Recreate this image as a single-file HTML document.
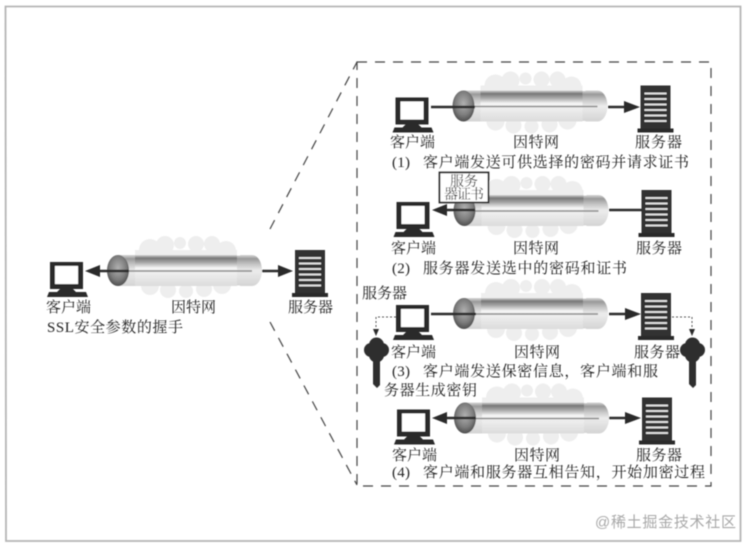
<!DOCTYPE html>
<html><head><meta charset="utf-8"><style>
html,body{margin:0;padding:0;background:#fff;width:752px;height:546px;overflow:hidden}
svg{display:block}
text{font-family:"Liberation Serif","Noto Serif CJK SC",serif;font-size:15px;fill:#222}
</style></head><body>
<svg width="752" height="546" viewBox="0 0 752 546" xmlns="http://www.w3.org/2000/svg">
<defs>
<linearGradient id="pipe" x1="0" y1="0" x2="0" y2="1">
<stop offset="0" stop-color="#d5d5d5"/><stop offset=".1" stop-color="#777"/><stop offset=".25" stop-color="#aaa"/><stop offset=".42" stop-color="#f6f6f6"/><stop offset=".75" stop-color="#e6e6e6"/><stop offset="1" stop-color="#dcdcdc"/>
</linearGradient>
<linearGradient id="pipe2" x1="0" y1="0" x2="0" y2="1">
<stop offset="0" stop-color="#d8d8d8"/><stop offset=".12" stop-color="#999"/><stop offset=".3" stop-color="#c5c5c5"/><stop offset=".5" stop-color="#ececec"/><stop offset="1" stop-color="#d4d4d4"/>
</linearGradient>
<radialGradient id="end" cx=".5" cy=".42" r=".62">
<stop offset="0" stop-color="#b0b0b0"/><stop offset=".6" stop-color="#7d7d7d"/><stop offset="1" stop-color="#454545"/>
</radialGradient>
<g id="pc">
<path d="M50 262H83V289H50Z" fill="#2c2c2c"/>
<rect x="55" y="266" width="23" height="18" fill="#fff"/>
<path d="M60 289H73L76 292H86L88 297H47L49 292H57Z" fill="#2c2c2c"/>
</g>
<g id="srv">
<rect x="295" y="250" width="30" height="43" fill="#333"/>
<rect x="292" y="293" width="36" height="4" fill="#2c2c2c"/>
<path d="M299 258H321M299 263.500H321M299 269H321M299 274.500H321M299 280H321M299 285.500H321" stroke="#eee" stroke-width="1.700"/>
</g>
<g id="pipeG">
<g fill="#eeeeee">
<circle cx="150" cy="250" r="11"/><circle cx="165" cy="245" r="9"/><circle cx="180" cy="243" r="6"/><circle cx="196" cy="244" r="8"/><circle cx="212" cy="244" r="8"/><circle cx="226" cy="251" r="10"/>
<rect x="135" y="250" width="102" height="36"/>
<circle cx="150" cy="286" r="9"/><circle cx="168" cy="290" r="8"/><circle cx="186" cy="291" r="7"/><circle cx="204" cy="289" r="8"/><circle cx="222" cy="285" r="9"/>
</g>
<path d="M118 255H252A10 15.500 0 0 1 252 286H118Z" fill="url(#pipe2)"/>
<rect x="135" y="255" width="102" height="31" fill="url(#pipe)"/>
<path d="M237 255H240M237 286H240" stroke="#fff" stroke-width="1"/>
<ellipse cx="118" cy="270.500" rx="11" ry="15.500" fill="url(#end)"/>
<path d="M129 271H252" stroke="#8a8a8a" stroke-width="1.500"/>
</g>
<g id="unit"><use href="#pipeG"/><use href="#pc"/><use href="#srv"/></g>
<g id="key" fill="#2f2f2f">
<circle cx="376.500" cy="345" r="7.500"/><circle cx="371" cy="350" r="7"/><circle cx="382" cy="350" r="7"/><circle cx="376.500" cy="355" r="7.500"/>
<path d="M373 358H380V385L377 388L373 384Z"/>
</g>
<filter id="b" x="-2%" y="-2%" width="104%" height="104%"><feGaussianBlur stdDeviation=".4"/></filter>
</defs>
<g filter="url(#b)">
<path d="M5.500 6.500H740.500V541H6Z" fill="none" stroke="#b5b5b5" stroke-width="1.800"/>
<!-- left diagram -->
<use href="#unit"/>
<path d="M95 271H129M262 271H285" stroke="#2c2c2c" stroke-width="2.500"/>
<path d="M85 271L100 265V277Z" fill="#2c2c2c"/><path d="M293 271L278 265V277Z" fill="#2c2c2c"/>
<!-- zoom lines -->
<g fill="none" stroke="#444" stroke-width="1.200" stroke-dasharray="10 8">
<path d="M270 229L357 62"/><path d="M270 322L357 485"/>
<path d="M357 62H711V486H357Z"/>
</g>
<!-- panel 1 -->
<g transform="translate(345.500,-164.500)"><use href="#unit"/></g>
<path d="M431 107H475M608 107H630" stroke="#2c2c2c" stroke-width="2.500"/><path d="M640 107L624 101V113Z" fill="#2c2c2c"/>
<!-- panel 2 -->
<g transform="translate(346.500,-60)"><use href="#unit"/></g>
<path d="M442 210H475M609 210H642" stroke="#2c2c2c" stroke-width="2.500"/><path d="M432 210L447 204V216Z" fill="#2c2c2c"/>
<rect x="439.500" y="172.500" width="49" height="30" fill="#fff" stroke="#2c2c2c" stroke-width="1.800"/>
<!-- panel 3 -->
<g transform="translate(346,43)"><use href="#unit"/></g>
<path d="M431 314H476M609 314H632" stroke="#2c2c2c" stroke-width="2.500"/><path d="M641 314L625 308V320Z" fill="#2c2c2c"/>
<g fill="none" stroke="#555" stroke-width="1" stroke-dasharray="2 2">
<path d="M396 317H376V330"/><path d="M672 317H692V330"/>
</g>
<path d="M373 329H379L376 336Z" fill="#2c2c2c"/><path d="M689 329H695L692 336Z" fill="#2c2c2c"/>
<use href="#key"/><use href="#key" x="316"/>
<!-- panel 4 -->
<g transform="translate(347,147.500)"><use href="#unit"/></g>
<path d="M442 418H476M609 418H632" stroke="#2c2c2c" stroke-width="2.500"/><path d="M641 418L625 412V424Z" fill="#2c2c2c"/>
<path d="M432 418L447 412V424Z" fill="#2c2c2c"/>
<!-- labels -->
<text x="46" y="312" textLength="45">客户端</text><text x="171" y="312" textLength="45">因特网</text><text x="288" y="312" textLength="45">服务器</text>
<text x="47" y="332" textLength="136" lengthAdjust="spacing">SSL安全参数的握手</text>
<text x="390" y="147" textLength="45">客户端</text><text x="513" y="147" textLength="46">因特网</text><text x="635" y="147" textLength="47">服务器</text>
<text x="392" y="167" textLength="18">(1)</text><text x="423" y="167" textLength="266">客户端发送可供选择的密码并请求证书</text>
<text x="450" y="186" style="font-size:14px" textLength="28">服务</text><text x="444" y="199" style="font-size:14px" textLength="40">器证书</text>
<text x="391" y="253" textLength="45">客户端</text><text x="513" y="253" textLength="46">因特网</text><text x="636" y="253" textLength="46">服务器</text>
<text x="392" y="273" textLength="18">(2)</text><text x="423" y="273" textLength="204">服务器发送选中的密码和证书</text>
<text x="362" y="298" textLength="45">服务器</text>
<text x="391" y="357" textLength="45">客户端</text><text x="514" y="357" textLength="46">因特网</text><text x="634" y="357" textLength="46">服务器</text>
<text x="392" y="376" textLength="18">(3)</text><text x="423" y="376" textLength="235">客户端发送保密信息，客户端和服</text>
<text x="384" y="395" textLength="93">务器生成密钥</text>
<text x="392" y="460" textLength="45">客户端</text><text x="514" y="460" textLength="46">因特网</text><text x="636" y="460" textLength="46">服务器</text>
<text x="392" y="477" textLength="18">(4)</text><text x="423" y="477" textLength="282">客户端和服务器互相告知，开始加密过程</text>
<text x="595" y="527" textLength="141" style="fill:#a8a8a8;font-family:'Liberation Sans','Noto Sans CJK SC',sans-serif">@稀土掘金技术社区</text>
</g>
</svg>
</body></html>
